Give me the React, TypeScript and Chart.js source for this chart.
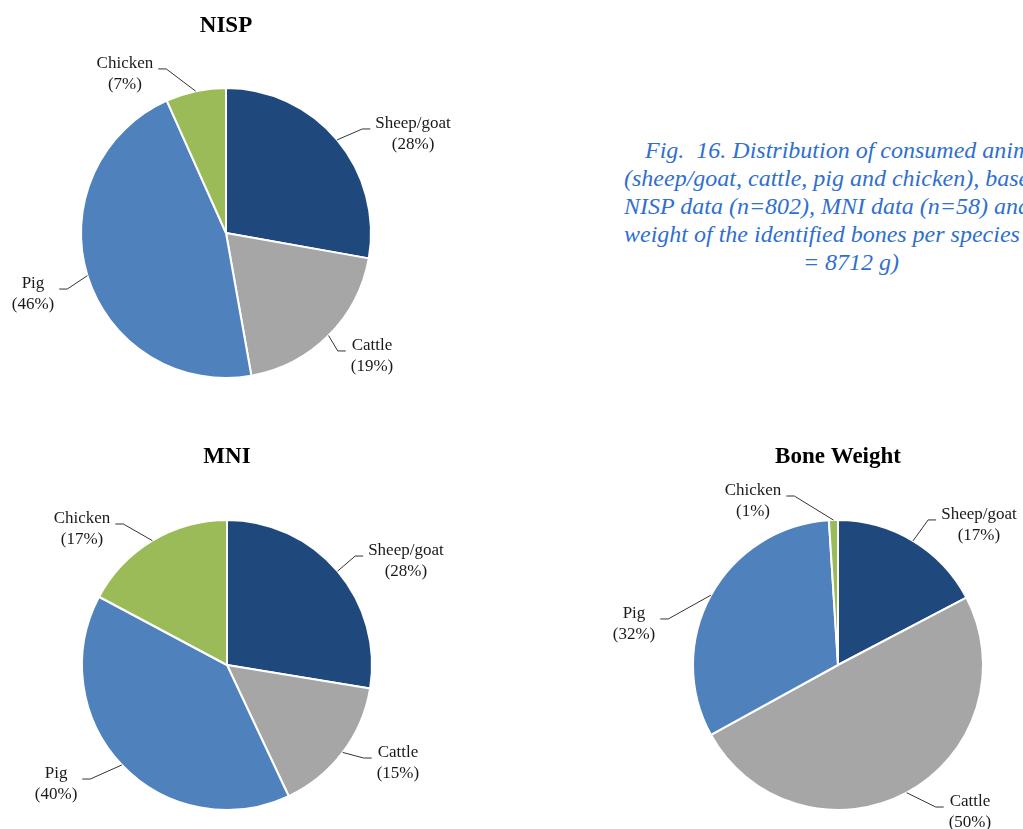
import React, { useEffect, useRef } from "react";
import { Chart, registerables } from "chart.js";

Chart.register(...registerables);

const categories = ["Sheep/goat", "Cattle", "Pig", "Chicken"];
const nispValues = [27.8, 19.4, 46.1, 6.7];
const mniValues = [27.6, 15.4, 39.8, 17.2];
const boneWeightValues = [17.3, 49.7, 32.0, 1.0];
const sliceColors = ["#1F497D", "#A6A6A6", "#4F81BD", "#9BBB59"];

const captionLines = [
  "Fig.  16. Distribution of consumed animals",
  "(sheep/goat, cattle, pig and chicken), based on",
  "NISP data (n=802), MNI data (n=58) and",
  "weight of the identified bones per species (n",
  "= 8712 g)",
];

const FONT = "'Liberation Serif', 'Times New Roman', serif";
const R = 145;
const BORDER = 2;
const TITLE_SIZE = 23;

// label box centres relative to pie centre, in radius units
const nispLabelOffsets = [
  [1.29, -0.683],
  [1.007, 0.848],
  [-1.331, 0.421],
  [-0.697, -1.097],
];
const mniLabelOffsets = [
  [1.234, -0.717],
  [1.179, 0.676],
  [-1.179, 0.821],
  [-1.0, -0.938],
];
const boneLabelOffsets = [
  [0.972, -0.966],
  [0.91, 1.014],
  [-1.407, -0.283],
  [-0.586, -1.131],
];

const leaderLabelPlugin = {
  id: "leaderLabels",
  afterDatasetsDraw(chart: any, _args: any, opts: any) {
    const ctx = chart.ctx;
    const meta = chart.getDatasetMeta(0);
    const data = chart.data.datasets[0].data as number[];
    const total = data.reduce((a, b) => a + b, 0);
    const offsets = opts.offsets as number[][];
    ctx.save();
    ctx.font = `17px ${FONT}`;
    ctx.textAlign = "center";
    ctx.textBaseline = "middle";
    meta.data.forEach((arc: any, i: number) => {
      const { x, y, startAngle, endAngle, outerRadius } = arc.getProps(
        ["x", "y", "startAngle", "endAngle", "outerRadius"],
        true
      );
      const mid = (startAngle + endAngle) / 2;
      const px = x + Math.cos(mid) * outerRadius;
      const py = y + Math.sin(mid) * outerRadius;
      const bx = x + offsets[i][0] * outerRadius;
      const by = y + offsets[i][1] * outerRadius;
      const lines = [
        String(chart.data.labels[i]),
        `(${Math.round((data[i] / total) * 100)}%)`,
      ];
      const hw = Math.max(...lines.map((l) => ctx.measureText(l).width)) / 2;
      const gap = 5;
      const seg = 8;
      const ly = by - 5;
      let hx1: number, hx2: number;
      if (bx > px) {
        hx1 = bx - hw - gap;
        hx2 = hx1 - seg;
      } else {
        hx1 = bx + hw + gap;
        hx2 = hx1 + seg;
      }
      ctx.strokeStyle = "#333333";
      ctx.lineWidth = 1;
      ctx.beginPath();
      ctx.moveTo(px, py);
      ctx.lineTo(hx2, ly);
      ctx.lineTo(hx1, ly);
      ctx.stroke();
      ctx.fillStyle = "#1a1a1a";
      ctx.fillText(lines[0], bx, by - 10.25);
      ctx.fillText(lines[1], bx, by + 10.25);
    });
    ctx.restore();
  },
};

type PieProps = {
  title: string;
  values: number[];
  offsets: number[][];
  left: number;
  top: number;
  width: number;
  height: number;
  cx: number; // local pie centre
  cy: number;
  titleY: number; // local title centre
};

function PieChart(p: PieProps) {
  const ref = useRef<HTMLCanvasElement>(null);
  useEffect(() => {
    if (!ref.current) return;
    const half = R + BORDER / 2;
    const titleH = TITLE_SIZE * 1.2;
    const padTop = p.titleY - titleH / 2;
    const padBottom = p.cy - half - (padTop + titleH);
    const chart = new Chart(ref.current, {
      type: "pie",
      data: {
        labels: categories,
        datasets: [
          {
            data: p.values,
            backgroundColor: sliceColors,
            borderColor: "#ffffff",
            borderWidth: BORDER,
          },
        ],
      },
      options: {
        animation: false,
        responsive: false,
        maintainAspectRatio: false,
        layout: {
          padding: {
            left: p.cx - half,
            right: p.width - (p.cx + half),
            top: 0,
            bottom: p.height - (p.cy + half),
          },
        },
        plugins: {
          legend: { display: false },
          tooltip: { enabled: false },
          title: {
            display: true,
            text: p.title,
            color: "#000000",
            font: { family: FONT, size: TITLE_SIZE, weight: "bold", lineHeight: 1.2 },
            padding: { top: padTop, bottom: padBottom },
          },
          leaderLabels: { offsets: p.offsets },
        } as any,
      },
      plugins: [leaderLabelPlugin],
    });
    return () => chart.destroy();
  }, []);
  return (
    <canvas
      ref={ref}
      width={p.width}
      height={p.height}
      style={{ position: "absolute", left: p.left, top: p.top, width: p.width, height: p.height }}
    />
  );
}

export default function App() {
  return (
    <div
      style={{
        position: "absolute",
        left: 0,
        top: 0,
        width: 1023,
        height: 829,
        overflow: "hidden",
        background: "#ffffff",
      }}
    >
      <PieChart title="NISP" values={nispValues} offsets={nispLabelOffsets}
        left={0} top={0} width={460} height={410} cx={226} cy={233} titleY={26} />
      <PieChart title="MNI" values={mniValues} offsets={mniLabelOffsets}
        left={0} top={430} width={460} height={399} cx={227} cy={235} titleY={27} />
      <PieChart title="Bone Weight" values={boneWeightValues} offsets={boneLabelOffsets}
        left={563} top={430} width={460} height={399} cx={275} cy={235} titleY={27} />
      <div
        style={{
          position: "absolute",
          left: 624,
          top: 136,
          width: 454,
          fontFamily: FONT,
          fontStyle: "italic",
          fontSize: 24,
          lineHeight: "28px",
          color: "#2F6FCF",
          whiteSpace: "pre",
        }}
      >
        {captionLines.map((l, i) => (
          <div
            key={i}
            style={{
              textAlign: i === captionLines.length - 1 ? "center" : "left",
              paddingLeft: i === 0 ? 21 : 0,
            }}
          >
            {l}
          </div>
        ))}
      </div>
    </div>
  );
}
